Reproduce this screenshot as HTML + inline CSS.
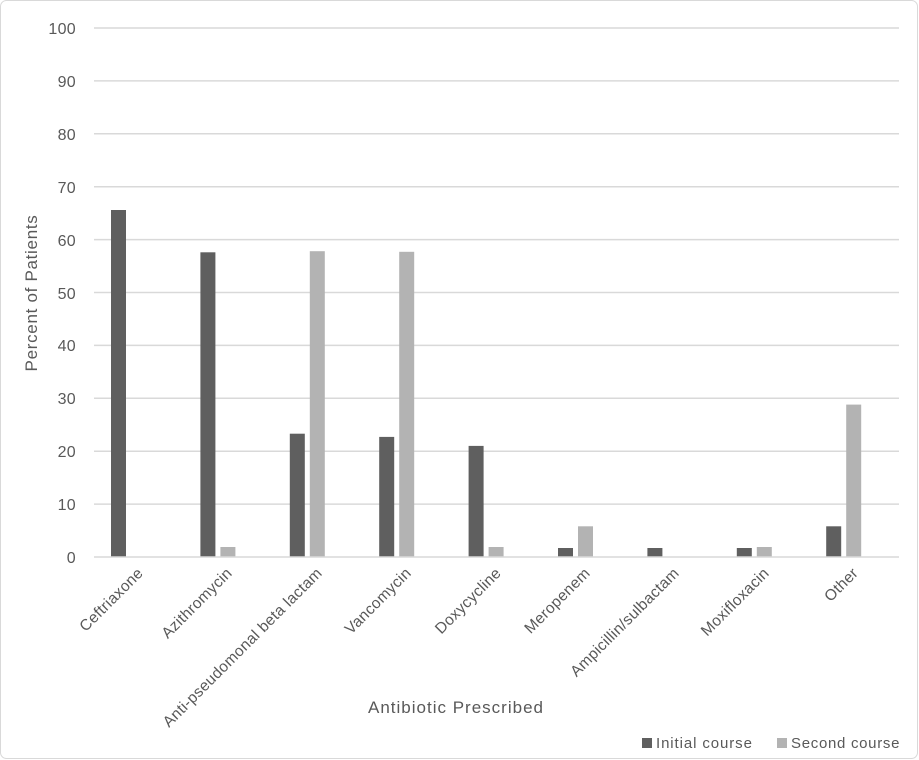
<!DOCTYPE html>
<html><head><meta charset="utf-8"><style>html,body{margin:0;padding:0;background:#fff}svg{display:block}</style></head>
<body>
<svg width="919" height="760" xmlns="http://www.w3.org/2000/svg" font-family="Liberation Sans, sans-serif">
<rect x="0.5" y="0.5" width="917" height="758" rx="6" fill="#fff" stroke="#d9d9d9"/>
<g stroke="#d9d9d9" stroke-width="1.5">
<line x1="94" x2="899" y1="28" y2="28"/><line x1="94" x2="899" y1="80.9" y2="80.9"/><line x1="94" x2="899" y1="133.8" y2="133.8"/><line x1="94" x2="899" y1="186.7" y2="186.7"/><line x1="94" x2="899" y1="239.6" y2="239.6"/><line x1="94" x2="899" y1="292.5" y2="292.5"/><line x1="94" x2="899" y1="345.4" y2="345.4"/><line x1="94" x2="899" y1="398.3" y2="398.3"/><line x1="94" x2="899" y1="451.2" y2="451.2"/><line x1="94" x2="899" y1="504.1" y2="504.1"/>
</g>
<g font-size="16" fill="#595959" text-anchor="end" letter-spacing="0.3">
<text x="76" y="34">100</text><text x="76" y="87">90</text><text x="76" y="140">80</text><text x="76" y="193">70</text><text x="76" y="246">60</text><text x="76" y="299">50</text><text x="76" y="351">40</text><text x="76" y="404">30</text><text x="76" y="457">20</text><text x="76" y="510">10</text><text x="76" y="563">0</text>
</g>
<g fill="#5f5f5f">
<rect x="111" y="210" width="15" height="347"/>
<rect x="200.4" y="252.3" width="15" height="304.7"/>
<rect x="289.8" y="433.7" width="15" height="123.3"/>
<rect x="379.2" y="436.9" width="15" height="120.1"/>
<rect x="468.6" y="445.9" width="15" height="111.1"/>
<rect x="558" y="548" width="15" height="9"/>
<rect x="647.4" y="548" width="15" height="9"/>
<rect x="736.8" y="548" width="15" height="9"/>
<rect x="826.2" y="526.3" width="15" height="30.7"/>
</g>
<g fill="#b3b3b3">
<rect x="220.4" y="547" width="15" height="10"/>
<rect x="309.8" y="251.2" width="15" height="305.8"/>
<rect x="399.2" y="251.8" width="15" height="305.2"/>
<rect x="488.6" y="547" width="15" height="10"/>
<rect x="578" y="526.3" width="15" height="30.7"/>
<rect x="756.8" y="547" width="15" height="10"/>
<rect x="846.2" y="404.6" width="15" height="152.4"/>
</g>
<line x1="94" x2="899" y1="557" y2="557" stroke="#d9d9d9" stroke-width="1.5"/>
<g font-size="15.5" fill="#595959" text-anchor="end" letter-spacing="0.3">
<text transform="translate(144,574) rotate(-45)">Ceftriaxone</text>
<text transform="translate(233,574) rotate(-45)">Azithromycin</text>
<text transform="translate(323,574) rotate(-45)">Anti-pseudomonal beta lactam</text>
<text transform="translate(412,574) rotate(-45)">Vancomycin</text>
<text transform="translate(502,574) rotate(-45)">Doxycycline</text>
<text transform="translate(591,574) rotate(-45)">Meropenem</text>
<text transform="translate(680,574) rotate(-45)">Ampicillin/sulbactam</text>
<text transform="translate(770,574) rotate(-45)">Moxifloxacin</text>
<text transform="translate(859,574) rotate(-45)">Other</text>
</g>
<text x="456" y="713" font-size="17" fill="#595959" text-anchor="middle" letter-spacing="1">Antibiotic Prescribed</text>
<text transform="translate(37,293) rotate(-90)" font-size="17" fill="#595959" text-anchor="middle" letter-spacing="0.7">Percent of Patients</text>
<rect x="642" y="738" width="10" height="10" fill="#5f5f5f"/>
<text x="656" y="748" font-size="15" fill="#595959" letter-spacing="0.9">Initial course</text>
<rect x="777" y="738" width="10" height="10" fill="#b3b3b3"/>
<text x="791" y="748" font-size="15" fill="#595959" letter-spacing="0.7">Second course</text>
</svg>
</body></html>
